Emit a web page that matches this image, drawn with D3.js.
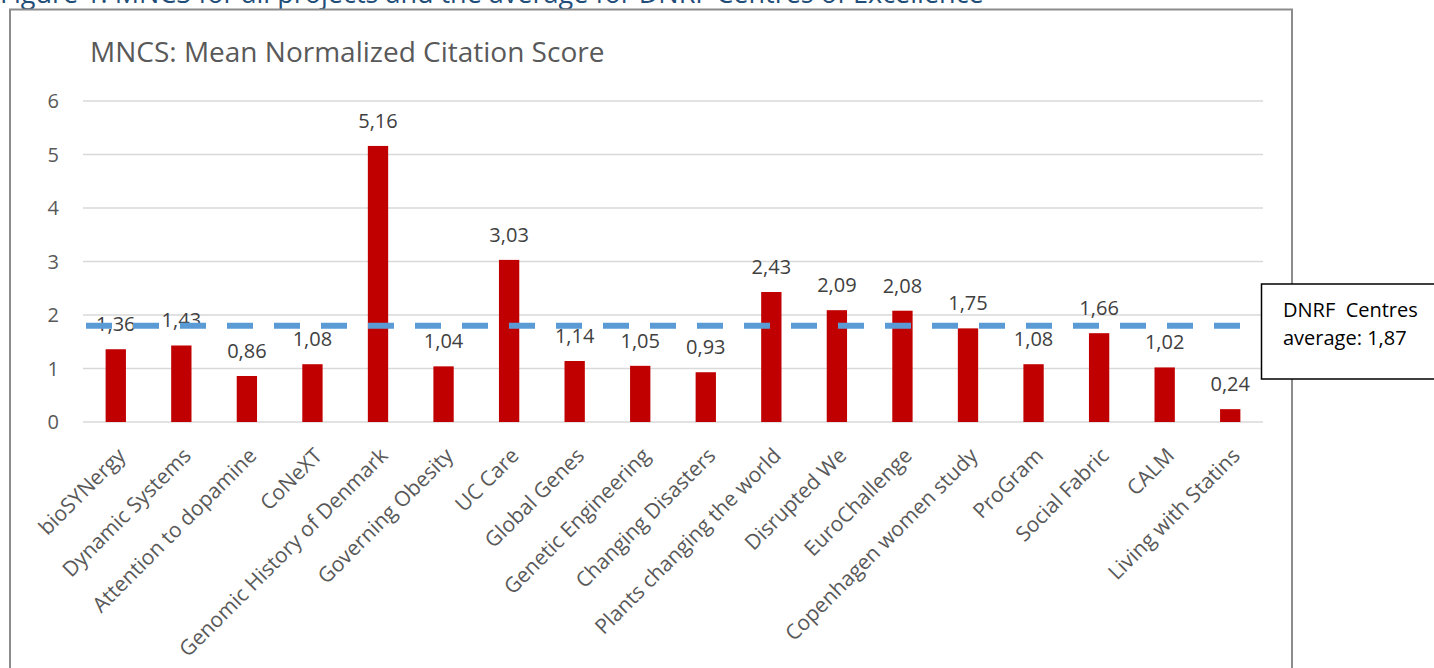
<!DOCTYPE html>
<html>
<head>
<meta charset="utf-8">
<script src="https://cdn.jsdelivr.net/npm/d3@7"></script>
<style>
  body { margin: 0; background: #fff; overflow: hidden; }
  svg { font-family: "Open Sans", "Noto Sans", sans-serif; }
</style>
</head>
<body>
<svg class="chart" width="1434" height="668"></svg>
<script>
var projects = ["bioSYNergy", "Dynamic Systems", "Attention to dopamine", "CoNeXT",
    "Genomic History of Denmark", "Governing Obesity", "UC Care", "Global Genes",
    "Genetic Engineering", "Changing Disasters", "Plants changing the world", "Disrupted We",
    "EuroChallenge", "Copenhagen women study", "ProGram", "Social Fabric", "CALM",
    "Living with Statins"];
var mncs = [1.36, 1.43, 0.86, 1.08, 5.16, 1.04, 3.03, 1.14, 1.05, 0.93, 2.43, 2.09,
    2.08, 1.75, 1.08, 1.66, 1.02, 0.24];
var yTicks = [0, 1, 2, 3, 4, 5, 6];
var centresAverage = 1.87;
var averageLineLevel = 1.8;   // where the dashed line actually sits in the picture

var svg = d3.select(".chart");
var fmt = d => d.toFixed(2).replace(".", ",");

// figure caption, mostly cut off at the top
svg.append("text")
    .attr("x", 0).attr("y", 3)
    .attr("fill", "#1f4e79")
    .style("font-size", "27px")
    .text("Figure 1: MNCS for all projects and the average for DNRF Centres of Excellence");

// chart frame
svg.append("rect")
    .attr("x", 10).attr("y", 9.5)
    .attr("width", 1282).attr("height", 700)
    .attr("fill", "#fff")
    .attr("stroke", "#8c8c8c")
    .attr("stroke-width", 2);

svg.append("text")
    .attr("x", 90).attr("y", 62)
    .attr("fill", "#595959")
    .style("font-size", "28px")
    .text("MNCS: Mean Normalized Citation Score");

var x = d3.scaleBand()
    .domain(projects)
    .range([83, 1263])
    .paddingInner(0.69)
    .paddingOuter(0.345);

var y = d3.scaleLinear()
    .domain([0, 6])
    .range([422, 101]);

// gridlines
svg.append("g")
    .selectAll("line")
    .data(yTicks)
    .enter()
    .append("line")
    .attr("x1", 83).attr("x2", 1263)
    .attr("y1", d => y(d)).attr("y2", d => y(d))
    .attr("stroke", "#d9d9d9")
    .attr("stroke-width", 1.5);

svg.append("g")
    .selectAll("text")
    .data(yTicks)
    .enter()
    .append("text")
    .attr("x", 59)
    .attr("y", d => y(d))
    .attr("dy", "0.35em")
    .attr("text-anchor", "end")
    .attr("fill", "#595959")
    .style("font-size", "20px")
    .text(d => d);

// bars
svg.append("g")
    .selectAll("rect")
    .data(mncs)
    .enter()
    .append("rect")
    .attr("x", (d, i) => x(projects[i]))
    .attr("y", d => y(d))
    .attr("width", x.bandwidth())
    .attr("height", d => y(0) - y(d))
    .attr("fill", "#c00000");

// value labels
svg.append("g")
    .selectAll("text")
    .data(mncs)
    .enter()
    .append("text")
    .attr("x", (d, i) => x(projects[i]) + x.bandwidth() / 2)
    .attr("y", d => y(d) - 18)
    .attr("text-anchor", "middle")
    .attr("fill", "#404040")
    .style("font-size", "20px")
    .text(d => fmt(d));

// category labels
svg.append("g")
    .selectAll("text")
    .data(projects)
    .enter()
    .append("text")
    .attr("transform", d => "translate(" + (x(d) + x.bandwidth() / 2 + 11) + ",457) rotate(-45)")
    .attr("text-anchor", "end")
    .attr("fill", "#595959")
    .style("font-size", "21px")
    .text(d => d);

// dashed average line
svg.append("line")
    .attr("x1", 86).attr("x2", 1275)
    .attr("y1", y(averageLineLevel)).attr("y2", y(averageLineLevel))
    .attr("stroke", "#5b9bd5")
    .attr("stroke-width", 6)
    .attr("stroke-dasharray", "26,21");

// average call-out box
svg.append("rect")
    .attr("x", 1261.5).attr("y", 284)
    .attr("width", 200).attr("height", 95)
    .attr("fill", "#fff")
    .attr("stroke", "#000")
    .attr("stroke-width", 1.5);

var note = svg.append("text")
    .attr("fill", "#000")
    .style("font-size", "20px");
note.append("tspan").attr("x", 1283).attr("y", 317).style("white-space", "pre").text("DNRF  Centres");
note.append("tspan").attr("x", 1283).attr("y", 345).text("average: " + fmt(centresAverage));
</script>
</body>
</html>
